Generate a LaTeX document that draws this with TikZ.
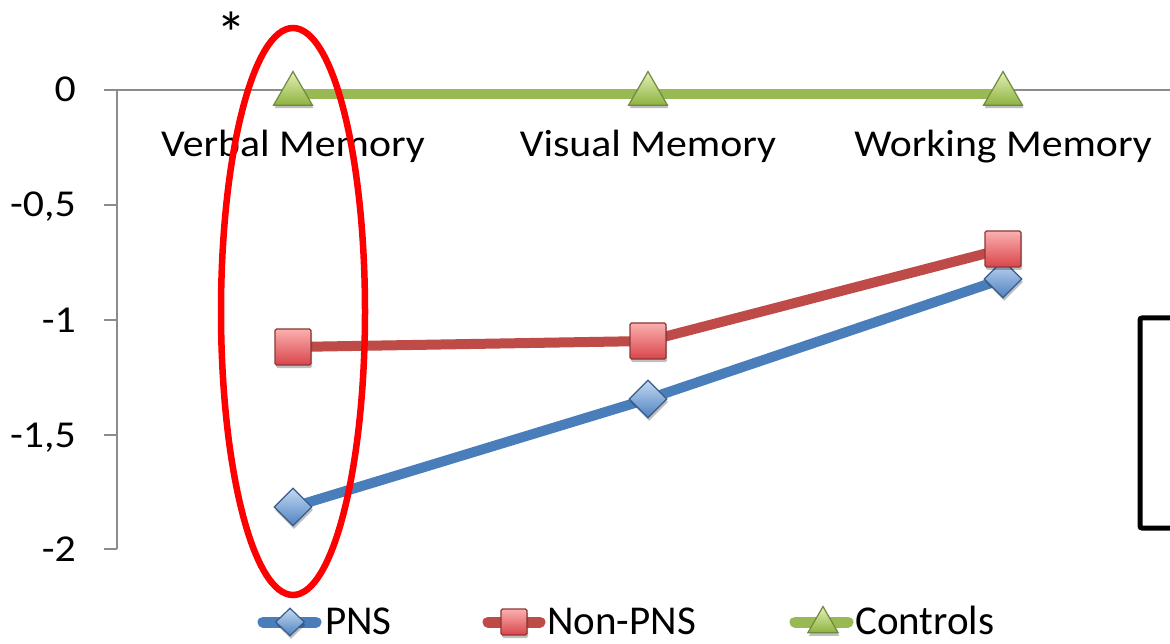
\documentclass[tikz,border=0pt]{standalone}
\usepackage{graphicx}
\usepackage{fontspec}
\setmainfont{Carlito}
\usetikzlibrary{shapes.geometric,shadows}
\definecolor{axisgray}{HTML}{8C8C8C}
\definecolor{pnsline}{HTML}{4A7EBB}
\definecolor{pnsedge}{HTML}{385D8A}
\definecolor{pnstop}{HTML}{C4DAF5}
\definecolor{pnsbot}{HTML}{4F81BD}
\definecolor{nonline}{HTML}{BE4B48}
\definecolor{nonedge}{HTML}{8C3836}
\definecolor{nontop}{HTML}{FBB0B0}
\definecolor{nonbot}{HTML}{D9454A}
\definecolor{conline}{HTML}{98B954}
\definecolor{conedge}{HTML}{71893F}
\definecolor{contop}{HTML}{E4F0B8}
\definecolor{conbot}{HTML}{8DB33F}
\newcommand{\hstretch}[1]{\scalebox{1.1}[1]{#1}}
\begin{document}
\begin{tikzpicture}[x=1pt,y=-1pt,
  axisline/.style={draw=axisgray, line width=2pt},
  lbl/.style={font=\fontsize{38}{44}\selectfont, inner sep=0pt},
  leg/.style={font=\fontsize{41}{48}\selectfont, inner sep=0pt, anchor=base west},
  shad/.style={drop shadow={shadow xshift=1pt, shadow yshift=-3pt, opacity=0.25, fill=black}},
  pnsl/.style={draw=pnsline, line width=10pt, line join=round},
  nonl/.style={draw=nonline, line width=10pt, line join=round},
  conl/.style={draw=conline, line width=10pt, line join=round},
  diam/.style={diamond, draw=pnsedge, line width=1.2pt, top color=pnstop, bottom color=pnsbot,
    minimum width=38pt, minimum height=38pt, inner sep=0pt, shad},
  sqm/.style={rectangle, rounded corners=1.5pt, draw=nonedge, line width=1.2pt, top color=nontop, bottom color=nonbot,
    minimum size=36pt, inner sep=0pt, shad},
  trim/.style={regular polygon, regular polygon sides=3, draw=conedge, line width=1.2pt, top color=contop, bottom color=conbot,
    minimum size=45pt, inner sep=0pt, shad},
  legl/.style={line width=11pt, line cap=round}
]
\clip (0,0) rectangle (1170,644);
\fill[white] (0,0) rectangle (1170,644);

% axes
\coordinate (o) at (117,90);
\coordinate (xend) at (1175,90);
\coordinate (ybot) at (117,549);
\draw[axisline] (104,90) -- (xend);
\draw[axisline] (o) -- (ybot);
\foreach \yy in {205,320,435,549} \draw[axisline] (104,\yy) -- (117,\yy);

% tick labels
\node[lbl, anchor=base east] (t0) at (76,102) {\hstretch{0}};
\node[lbl, anchor=base east] (t1) at (76,217) {\hstretch{-0,5}};
\node[lbl, anchor=base east] (t2) at (76,332) {\hstretch{-1}};
\node[lbl, anchor=base east] (t3) at (76,447) {\hstretch{-1,5}};
\node[lbl, anchor=base east] (t4) at (76,561) {\hstretch{-2}};

% category labels
\node[lbl, anchor=base] (c1) at (293,157) {\hstretch{Verbal Memory}};
\node[lbl, anchor=base] (c2) at (648,157) {\hstretch{Visual Memory}};
\node[lbl, anchor=base] (c3) at (1003,157) {\hstretch{Working Memory}};

% data points
\coordinate (p1) at (293,507);
\coordinate (p2) at (648,399);
\coordinate (p3) at (1003,279);
\coordinate (n1) at (293,347);
\coordinate (n2) at (648,341);
\coordinate (n3) at (1003,249);
\coordinate (g1) at (293,94);
\coordinate (g2) at (648,94);
\coordinate (g3) at (1003,94);

\draw[conl] (g1) -- (g2) -- (g3);
\draw[nonl] (n1) -- (n2) -- (n3);
\draw[pnsl] (p1) -- (p2) -- (p3);

\node[trim] (G1) at (g1) {};
\node[trim] (G2) at (g2) {};
\node[trim] (G3) at (g3) {};
\node[diam] (P1) at (p1) {};
\node[diam] (P2) at (p2) {};
\node[diam] (P3) at (p3) {};
\node[sqm] (N1) at (n1) {};
\node[sqm] (N2) at (n2) {};
\node[sqm] (N3) at (n3) {};

% highlight ellipse and asterisk
\node[ellipse, draw=red, line width=6.5pt, minimum width=144pt, minimum height=567pt, inner sep=0pt] (hl) at (293,311.5) {};
\node[font=\fontsize{60}{66}\selectfont, inner sep=0pt, anchor=base] (star) at (231,55) {*};

% box at right
\draw[line width=5pt, rounded corners=2pt] (1200,318) -- (1140,318) -- (1140,528) -- (1200,528);

% legend
\coordinate (la1) at (263,622); \coordinate (lb1) at (316,622);
\coordinate (la2) at (488,622); \coordinate (lb2) at (540,622);
\coordinate (la3) at (795,622); \coordinate (lb3) at (848,622);
\draw[legl, pnsline] (la1) -- (lb1);
\draw[legl, nonline] (la2) -- (lb2);
\draw[legl, conline] (la3) -- (lb3);
\node[diam, minimum width=29pt, minimum height=28pt] (LP) at (290,622) {};
\node[sqm, minimum size=26pt] (LN) at (514,622) {};
\node[trim, minimum size=35pt] (LC) at (823,624) {};
\node[leg] (tp) at (325,634) {PNS};
\node[leg] (tn) at (547,634) {Non-PNS};
\node[leg] (tc) at (855,634) {Controls};
\end{tikzpicture}
\end{document}
